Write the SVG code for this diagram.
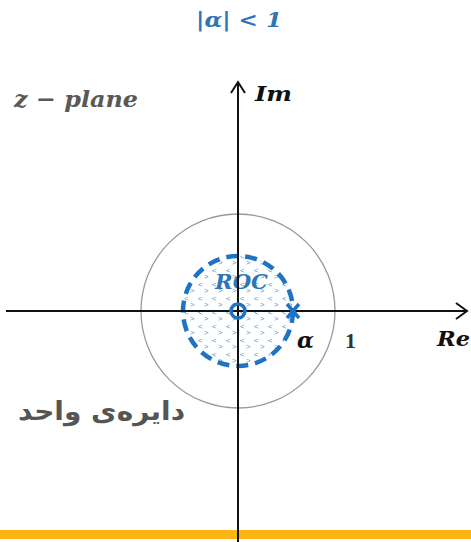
<svg xmlns="http://www.w3.org/2000/svg" width="471" height="542" viewBox="0 0 471 542">
<defs>
<style>
.math{font-family:"DejaVu Serif","Liberation Serif",serif;font-style:italic;font-weight:bold}
.ax{stroke:#111;stroke-width:2;fill:none}
</style>
<pattern id="dots" width="14" height="14" patternUnits="userSpaceOnUse">
<text x="2" y="7" font-family="Liberation Sans,sans-serif" font-size="8" fill="#4a90d9">&lt;</text>
<text x="8" y="13" font-family="Liberation Sans,sans-serif" font-size="8" fill="#4a90d9">&gt;</text>
</pattern>
</defs>
<rect width="471" height="542" fill="#fff"/>
<rect x="0" y="530" width="471" height="9" fill="#fdb515"/>
<g id="unit-circle"><circle cx="238" cy="311" r="97" fill="none" stroke="#999" stroke-width="1.3"/></g>
<g id="roc">
<circle cx="238" cy="311" r="55" fill="url(#dots)" stroke="#1f73c4" stroke-width="4.5" stroke-dasharray="12 7"/>
<text x="215" y="289" class="math" font-size="20" fill="#2e75b6" font-weight="normal" textLength="53" lengthAdjust="spacingAndGlyphs">ROC</text>
</g>
<g id="connectors">
<line x1="6" y1="311" x2="466" y2="311" class="ax"/>
<path d="M456 303 L467 311 L456 319" class="ax"/>
<line x1="238" y1="542" x2="238" y2="83" class="ax"/>
<path d="M231 93 L238 82 L245 93" class="ax"/>
</g>
<g id="zero"><circle cx="238" cy="311" r="7" fill="none" stroke="#1f73c4" stroke-width="3.5"/></g>
<g id="pole"><path d="M287 304 L299 318 M299 304 L287 318" stroke="#1f73c4" stroke-width="3.5"/></g>
<text x="196" y="27" class="math" font-size="21" fill="#2e75b6" font-style="normal" textLength="86" lengthAdjust="spacingAndGlyphs">|<tspan font-style="italic">α</tspan>| &lt; 1</text>
<text x="14" y="107" class="math" font-size="23" fill="#595959" textLength="124" lengthAdjust="spacingAndGlyphs">z − plane</text>
<text x="255" y="101" class="math" font-size="21" fill="#111" textLength="37" lengthAdjust="spacingAndGlyphs">Im</text>
<text x="437" y="346" class="math" font-size="21" fill="#111" textLength="33" lengthAdjust="spacingAndGlyphs">Re</text>
<text x="297" y="348" class="math" font-size="22" fill="#111">α</text>
<text x="345" y="348" font-family="Liberation Serif,serif" font-weight="bold" font-size="22" fill="#333">1</text>
<text x="185" y="420" font-family="DejaVu Sans,sans-serif" font-weight="bold" font-size="26" fill="#555" direction="rtl" text-anchor="start" textLength="167" lengthAdjust="spacingAndGlyphs">دایرەی واحد</text>
</svg>
